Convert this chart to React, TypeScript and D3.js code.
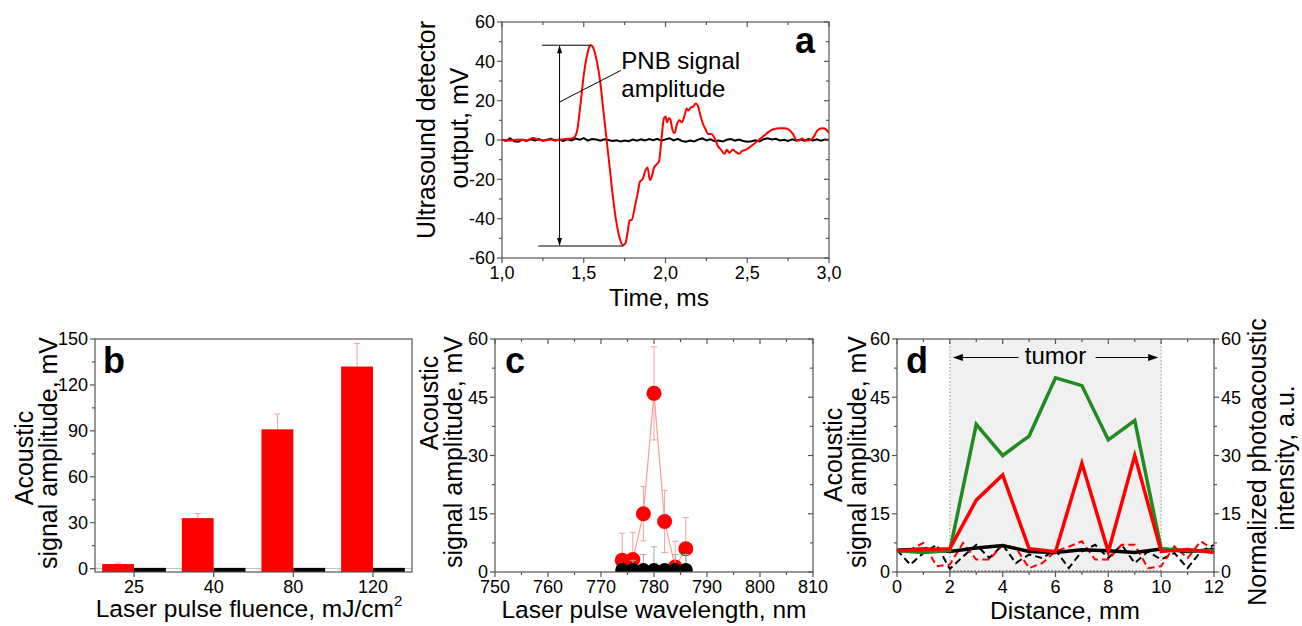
import React from 'react'
import * as d3 from 'd3'

const FONT = '"Liberation Sans", Arial, Helvetica, sans-serif'
const AXIS = '#555'
const RED = '#ff0000'
const PINK = '#f3a0a0'
const GREEN = '#1e8c1e'

// ---- panel a: ultrasound traces [time ms, mV]
const aRed: [number, number][] = [
  [1.0, 0], [1.05, -0.3], [1.1, 0.2], [1.15, -0.2], [1.19, 1.0], [1.22, 0.1], [1.26, -0.2], [1.3, 0.2],
  [1.34, 0.0], [1.38, 0.5], [1.42, 0.7], [1.44, 1.2], [1.46, 5], [1.48, 18], [1.5, 33], [1.52, 43],
  [1.535, 47.5], [1.545, 48.2], [1.56, 46.5], [1.58, 40], [1.6, 30], [1.62, 15], [1.64, 0], [1.66, -15],
  [1.68, -30], [1.7, -42], [1.72, -50], [1.74, -53.5], [1.755, -52.5], [1.77, -46], [1.78, -41],
  [1.795, -40.5], [1.81, -35], [1.83, -27], [1.845, -21], [1.86, -20], [1.875, -16], [1.89, -14],
  [1.905, -20.5], [1.915, -19], [1.93, -14], [1.945, -12.5], [1.96, -11], [1.975, 0], [1.99, 11],
  [2.0, 12], [2.01, 9], [2.02, 11], [2.03, 10.5], [2.04, 6], [2.055, 3.5], [2.07, 8], [2.085, 10],
  [2.1, 9], [2.115, 12], [2.13, 16], [2.14, 15], [2.155, 16.5], [2.17, 17], [2.185, 18.5], [2.2, 17],
  [2.215, 12], [2.23, 8], [2.245, 5.5], [2.26, 3], [2.28, 3], [2.3, 1], [2.32, -3], [2.34, -5],
  [2.36, -7], [2.375, -5], [2.39, -6.5], [2.41, -5], [2.43, -6], [2.45, -7], [2.47, -5.5], [2.49, -5],
  [2.51, -4], [2.54, -2], [2.57, 0], [2.6, 2], [2.63, 4], [2.66, 5.5], [2.7, 6], [2.73, 6], [2.76, 5],
  [2.78, 3], [2.8, 0], [2.82, -0.3], [2.835, 0.8], [2.85, 0], [2.87, -0.3], [2.89, 0.2], [2.91, 2],
  [2.93, 5], [2.96, 6], [2.98, 5.5], [3.0, 3.5],
]
const aBlack: [number, number][] = [
  [1.0, 0.3], [1.025, -0.4], [1.05, 0.8], [1.075, -0.6], [1.1, -0.9], [1.125, 0.2], [1.15, -0.5],
  [1.175, 0.4], [1.2, -0.2], [1.225, 0.5], [1.25, -0.4], [1.275, 0.1], [1.3, 0.6], [1.325, -0.3],
  [1.35, 0.2], [1.375, -0.5], [1.4, 0.4], [1.425, -0.2], [1.45, 0.7], [1.475, 0.1], [1.5, 1.0],
  [1.525, -0.3], [1.55, 0.5], [1.575, 0.2], [1.6, -0.3], [1.625, 0.4], [1.65, 0.0], [1.675, -0.5],
  [1.7, -0.2], [1.725, -0.8], [1.75, -0.3], [1.775, -0.6], [1.8, 0.2], [1.825, -0.4], [1.85, 0.3],
  [1.875, -0.2], [1.9, 0.5], [1.925, -0.1], [1.95, 0.6], [1.975, -0.4], [2.0, 0.3], [2.025, 0.9],
  [2.05, -0.2], [2.075, 0.6], [2.1, -0.5], [2.125, -0.9], [2.15, -0.3], [2.175, -0.7], [2.2, 0.2],
  [2.225, 0.8], [2.25, -0.2], [2.275, 0.4], [2.3, -0.6], [2.325, -0.3], [2.35, -0.8], [2.375, 0.1],
  [2.4, 0.5], [2.425, -0.3], [2.45, 0.2], [2.475, -0.5], [2.5, -0.9], [2.525, -0.6], [2.55, -0.2],
  [2.575, -0.7], [2.6, 0.4], [2.625, 0.9], [2.65, 0.3], [2.675, 0.6], [2.7, -0.2], [2.725, 0.1],
  [2.75, -0.5], [2.775, 0.3], [2.8, -0.4], [2.825, 0.2], [2.85, -0.3], [2.875, 0.5], [2.9, -0.2],
  [2.925, 0.3], [2.95, -0.4], [2.975, 0.2], [3.0, 0.0],
]
const aXTicks = [1.0, 1.5, 2.0, 2.5, 3.0]
const aYTicks = [-60, -40, -20, 0, 20, 40, 60]
const aPeak = 48.2
const aTrough = -53.9

// ---- panel b: fluence bars
const bFluence = ['25', '40', '80', '120']
const bRed = [3, 33, 91, 132]
const bRedErr = [0.6, 3, 10, 15]
const bBlack = [0.5, 0.5, 0.5, 0.5]
const bYTicks = [0, 30, 60, 90, 120, 150]

// ---- panel c: wavelength scan
const cWave = [774, 776, 778, 780, 782, 784, 786]
const cRed = [3, 3.2, 15, 46, 13, 1.3, 6]
const cRedErr = [7, 7, 7, 12, 8, 6.6, 8]
const cBlack = [0.5, 0.5, 0.5, 0.5, 0.5, 0.5, 0.5]
const cBlackErr = [1, 2.5, 4, 6, 1, 4, 4]
const cXTicks = [750, 760, 770, 780, 790, 800, 810]
const cYTicks = [0, 15, 30, 45, 60]

// ---- panel d: distance scan
const dDist = [0, 1, 2, 3, 4, 5, 6, 7, 8, 9, 10, 11, 12]
const dGreen = [5.5, 5, 5.5, 38, 30, 35, 50, 48, 34, 39, 6, 5.5, 5.5]
const dRed = [5.5, 5.8, 6, 18.5, 25, 6, 5.2, 28, 5.2, 30, 5.3, 5.8, 5]
const dBlack = [5.6, 5.9, 5.3, 6.2, 6.8, 5.3, 5, 5.7, 5.5, 5, 5.9, 5.3, 5.7]
const dDistHalf = [0, 0.5, 1, 1.5, 2, 2.5, 3, 3.5, 4, 4.5, 5, 5.5, 6, 6.5, 7, 7.5, 8, 8.5, 9, 9.5, 10, 10.5, 11, 11.5, 12]
const dBlackDash = [5.7, 1.9, 4.9, 7, 0.8, 4, 7, 3.6, 7, 2.3, 4.5, 3.6, 5.7, 1, 5.3, 7, 3.6, 7, 2.3, 5.3, 3.2, 4.9, 1, 5.3, 7]
const dRedDash = [5.7, 5.7, 7.5, 1.5, 1.9, 7.5, 3.2, 3.2, 7, 6.2, 1, 2.3, 5.3, 6.5, 7.9, 3.2, 3.2, 7, 7, 1, 1.5, 6.6, 3.6, 7.9, 5.7]
const dTumor = [2, 10]
const dXTicks = [0, 2, 4, 6, 8, 10, 12]
const dYTicks = [0, 15, 30, 45, 60]

type Tk = { p: number; s: string }

function Frame({ l, r, t, b, xt, xm, yt, ym, rt, rm, mirror = true }: {
  l: number; r: number; t: number; b: number; xt: Tk[]; xm: number[]; yt: Tk[]; ym: number[]
  rt?: Tk[]; rm?: number[]; mirror?: boolean
}) {
  const MAJ = 5, MIN = 3
  return (
    <g>
      <g stroke={AXIS} strokeWidth={1.2} fill="none">
        <rect x={l} y={t} width={r - l} height={b - t} />
        {xt.map((d, i) => <line key={'xt' + i} x1={d.p} x2={d.p} y1={b} y2={b + MAJ} />)}
        {xm.map((p, i) => <line key={'xm' + i} x1={p} x2={p} y1={b} y2={b + MIN} />)}
        {yt.map((d, i) => <line key={'yt' + i} x1={l} x2={l - MAJ} y1={d.p} y2={d.p} />)}
        {ym.map((p, i) => <line key={'ym' + i} x1={l} x2={l - MIN} y1={p} y2={p} />)}
        {mirror && xt.map((d, i) => <line key={'tt' + i} x1={d.p} x2={d.p} y1={t} y2={t + MAJ} />)}
        {mirror && xm.map((p, i) => <line key={'tm' + i} x1={p} x2={p} y1={t} y2={t + MIN} />)}
        {mirror && !rt && yt.map((d, i) => <line key={'rt' + i} x1={r} x2={r - MAJ} y1={d.p} y2={d.p} />)}
        {mirror && !rt && ym.map((p, i) => <line key={'rm' + i} x1={r} x2={r - MIN} y1={p} y2={p} />)}
        {rt && rt.map((d, i) => <line key={'ro' + i} x1={r} x2={r + MAJ} y1={d.p} y2={d.p} />)}
        {rm && rm.map((p, i) => <line key={'rn' + i} x1={r} x2={r + MIN} y1={p} y2={p} />)}
      </g>
      <g fontSize={18} fill="#000">
        {xt.map((d, i) => <text key={'xl' + i} x={d.p} y={b + 21} textAnchor="middle">{d.s}</text>)}
        {yt.map((d, i) => <text key={'yl' + i} x={l - 7} y={d.p} dy="0.35em" textAnchor="end">{d.s}</text>)}
        {rt && rt.map((d, i) => <text key={'rl' + i} x={r + 7} y={d.p} dy="0.35em" textAnchor="start">{d.s}</text>)}
      </g>
    </g>
  )
}

function VText({ x, y, children, size = 25 }: { x: number; y: number; children: React.ReactNode; size?: number }) {
  return <text transform={`translate(${x},${y}) rotate(-90)`} textAnchor="middle" fontSize={size}>{children}</text>
}

function PanelA() {
  const x = d3.scaleLinear().domain([1, 3]).range([502, 829])
  const y = d3.scaleLinear().domain([-60, 60]).range([258, 22])
  const line = d3.line<[number, number]>().x(d => x(d[0])).y(d => y(d[1]))
  const red = line.curve(d3.curveMonotoneX)(aRed) as string
  const black = d3.line<[number, number]>().x(d => x(d[0])).y(d => y(d[1]))(aBlack) as string
  const fmt = (v: number) => v.toFixed(1).replace('.', ',')
  const ax = x(1.352), yt = y(aPeak), yb = y(aTrough)
  return (
    <g>
      <defs>
        <clipPath id="clipA"><rect x={502} y={22} width={327} height={236} /></clipPath>
      </defs>
      <g clipPath="url(#clipA)" fill="none" strokeWidth={2}>
        <path d={black} stroke="#000" />
        <path d={red} stroke={RED} />
      </g>
      <g stroke="#000" strokeWidth={1}>
        <line x1={x(1.244)} x2={x(1.545)} y1={yt} y2={yt} />
        <line x1={x(1.222)} x2={x(1.742)} y1={yb} y2={yb} />
        <line x1={ax} x2={ax} y1={yt + 1} y2={yb - 1} />
        <line x1={ax} y1={y(19.3)} x2={x(1.727)} y2={y(35.4)} />
      </g>
      <path d={`M${ax},${yt} l-2.5,8 l5,0 z M${ax},${yb} l-2.5,-8 l5,0 z`} fill="#000" />
      <text x={x(1.73)} y={69} fontSize={24}>PNB signal</text>
      <text x={x(1.73)} y={97} fontSize={24}>amplitude</text>
      <text x={795} y={53} fontSize={36} fontWeight="bold">a</text>
      <Frame l={502} r={829} t={22} b={258}
        xt={aXTicks.map(v => ({ p: x(v), s: fmt(v) }))}
        xm={[1.25, 1.75, 2.25, 2.75].map(x)}
        yt={aYTicks.map(v => ({ p: y(v), s: String(v) }))}
        ym={[-50, -30, -10, 10, 30, 50].map(y)} />
      <VText x={435} y={130}>Ultrasound detector</VText>
      <VText x={468} y={128}>output, mV</VText>
      <text x={659} y={306} textAnchor="middle" fontSize={24.5}>Time, ms</text>
    </g>
  )
}

function PanelB() {
  const L = 95, R = 412, T = 339, B = 572
  const x = d3.scaleBand().domain(bFluence).range([L, R]).paddingInner(0.2).paddingOuter(0.09)
  const sub = d3.scaleBand().domain(['red', 'black']).range([0, x.bandwidth()])
  const y = d3.scaleLinear().domain([-2.2, 150]).range([B, T])
  return (
    <g>
      <line x1={L} x2={R} y1={y(0)} y2={y(0)} stroke="#bbb" strokeWidth={1} />
      {bFluence.map((c, i) => {
        const x0 = (x(c) as number) + (sub('red') as number)
        const cx = x0 + sub.bandwidth() / 2
        return (
          <g key={c}>
            <line x1={cx} x2={cx} y1={y(bRed[i])} y2={y(bRed[i] + bRedErr[i])} stroke={PINK} strokeWidth={1} />
            <line x1={cx - 3} x2={cx + 3} y1={y(bRed[i] + bRedErr[i])} y2={y(bRed[i] + bRedErr[i])} stroke={PINK} strokeWidth={1} />
            <rect x={x0} width={sub.bandwidth()} y={y(bRed[i])} height={B - y(bRed[i])} fill={RED} />
            <rect x={(x(c) as number) + (sub('black') as number)} width={sub.bandwidth()} y={y(bBlack[i])}
              height={B - y(bBlack[i])} fill="#000" />
          </g>
        )
      })}
      <text x={103} y={373} fontSize={36} fontWeight="bold">b</text>
      <Frame l={L} r={R} t={T} b={B} mirror={false}
        xt={bFluence.map(c => ({ p: (x(c) as number) + x.bandwidth() / 2, s: c }))}
        xm={[]}
        yt={bYTicks.map(v => ({ p: y(v), s: String(v) }))}
        ym={[15, 45, 75, 105, 135].map(y)} />
      <VText x={33} y={458}>Acoustic</VText>
      <VText x={57} y={453}>signal amplitude, mV</VText>
      <text x={249} y={617} textAnchor="middle" fontSize={24.5}>
        Laser pulse fluence, mJ/cm<tspan dy={-11} fontSize={15}>2</tspan>
      </text>
    </g>
  )
}

function PanelC() {
  const L = 495, R = 813, T = 339, B = 572
  const x = d3.scaleLinear().domain([750, 810]).range([L, R])
  const y = d3.scaleLinear().domain([0, 60]).range([B, T])
  const line = d3.line<number>().x((_, i) => x(cWave[i])).y(d => y(d))
  const bars = (vals: number[], errs: number[], col: string, both: boolean) =>
    cWave.map((w, i) => {
      const cx = x(w), top = y(vals[i] + errs[i]), bot = y(both ? vals[i] - errs[i] : vals[i])
      return (
        <g key={col + w} stroke={col} strokeWidth={1}>
          <line x1={cx} x2={cx} y1={top} y2={bot} />
          <line x1={cx - 3} x2={cx + 3} y1={top} y2={top} />
          {both && <line x1={cx - 3} x2={cx + 3} y1={bot} y2={bot} />}
        </g>
      )
    })
  return (
    <g>
      <defs>
        <clipPath id="clipC"><rect x={L} y={T} width={R - L} height={B - T} /></clipPath>
      </defs>
      <g clipPath="url(#clipC)">
        <path d={line(cRed) as string} fill="none" stroke={PINK} strokeWidth={1.2} />
        {bars(cRed, cRedErr, PINK, true)}
        {cWave.map((w, i) => <circle key={'r' + w} cx={x(w)} cy={y(cRed[i])} r={7.5} fill={RED} />)}
        {bars(cBlack, cBlackErr, '#aaa', false)}
        {cWave.map((w, i) => <circle key={'k' + w} cx={x(w)} cy={y(cBlack[i])} r={7} fill="#000" />)}
      </g>
      <text x={505} y={373} fontSize={36} fontWeight="bold">c</text>
      <Frame l={L} r={R} t={T} b={B}
        xt={cXTicks.map(v => ({ p: x(v), s: String(v) }))}
        xm={[755, 765, 775, 785, 795, 805].map(x)}
        yt={cYTicks.map(v => ({ p: y(v), s: String(v) }))}
        ym={[7.5, 22.5, 37.5, 52.5].map(y)} />
      <VText x={438} y={403}>Acoustic</VText>
      <VText x={462} y={452}>signal amplitude, mV</VText>
      <text x={654} y={618} textAnchor="middle" fontSize={24.5}>Laser pulse wavelength, nm</text>
    </g>
  )
}

function PanelD() {
  const L = 897, R = 1214, T = 339, B = 572
  const x = d3.scaleLinear().domain([0, 12]).range([L, R])
  const y = d3.scaleLinear().domain([0, 60]).range([B, T])
  const yR = d3.scaleLinear().domain([0, 60]).range([B, T])
  const full = d3.line<number>().x((_, i) => x(dDist[i])).y(d => y(d))
  const half = d3.line<number>().x((_, i) => x(dDistHalf[i])).y(d => yR(d))
  const x2 = x(dTumor[0]), x10 = x(dTumor[1]), mid = x((dTumor[0] + dTumor[1]) / 2)
  const ay = 357.5
  return (
    <g>
      <rect x={x2} y={T} width={x10 - x2} height={B - T} fill="#f0f0f0" />
      <g stroke="#999" strokeWidth={1} strokeDasharray="1.5,2">
        <line x1={x2} x2={x2} y1={T} y2={B} />
        <line x1={x10} x2={x10} y1={T} y2={B} />
      </g>
      <line x1={x2} x2={x10} y1={B - 1} y2={B - 1} stroke="#333" strokeDasharray="1.5,2" />
      <g fill="none" strokeLinejoin="miter">
        <path d={half(dBlackDash) as string} stroke="#000" strokeWidth={2} strokeDasharray="7,4" />
        <path d={half(dRedDash) as string} stroke={RED} strokeWidth={2} strokeDasharray="7,4" />
        <path d={full(dBlack) as string} stroke="#000" strokeWidth={3.5} />
        <path d={full(dGreen) as string} stroke={GREEN} strokeWidth={3.5} />
        <path d={full(dRed) as string} stroke={RED} strokeWidth={3.5} />
      </g>
      <g stroke="#000" strokeWidth={1.2}>
        <line x1={x2 + 8} x2={mid - 37} y1={ay} y2={ay} />
        <line x1={mid + 40} x2={x10 - 8} y1={ay} y2={ay} />
      </g>
      <path d={`M${x2 + 3},${ay} l10,-3.5 l0,7 z M${x10 - 3},${ay} l-10,-3.5 l0,7 z`} fill="#000" />
      <text x={mid} y={364} textAnchor="middle" fontSize={24}>tumor</text>
      <text x={906} y={373} fontSize={36} fontWeight="bold">d</text>
      <Frame l={L} r={R} t={T} b={B}
        xt={dXTicks.map(v => ({ p: x(v), s: String(v) }))}
        xm={[1, 3, 5, 7, 9, 11].map(x)}
        yt={dYTicks.map(v => ({ p: y(v), s: String(v) }))}
        ym={[7.5, 22.5, 37.5, 52.5].map(y)}
        rt={dYTicks.map(v => ({ p: yR(v), s: String(v) }))}
        rm={[7.5, 22.5, 37.5, 52.5].map(yR)} />
      <VText x={842} y={455}>Acoustic</VText>
      <VText x={866} y={452}>signal amplitude, mV</VText>
      <VText x={1266} y={462}>Normalized photoacoustic</VText>
      <VText x={1294} y={458}>intensity, a.u.</VText>
      <text x={1065} y={619} textAnchor="middle" fontSize={24.5}>Distance, mm</text>
    </g>
  )
}

export default function App() {
  return (
    <svg width={1302} height={626} style={{ position: 'absolute', left: 0, top: 0, background: '#fff' }}
      fontFamily={FONT}>
      <PanelA />
      <PanelB />
      <PanelC />
      <PanelD />
    </svg>
  )
}
